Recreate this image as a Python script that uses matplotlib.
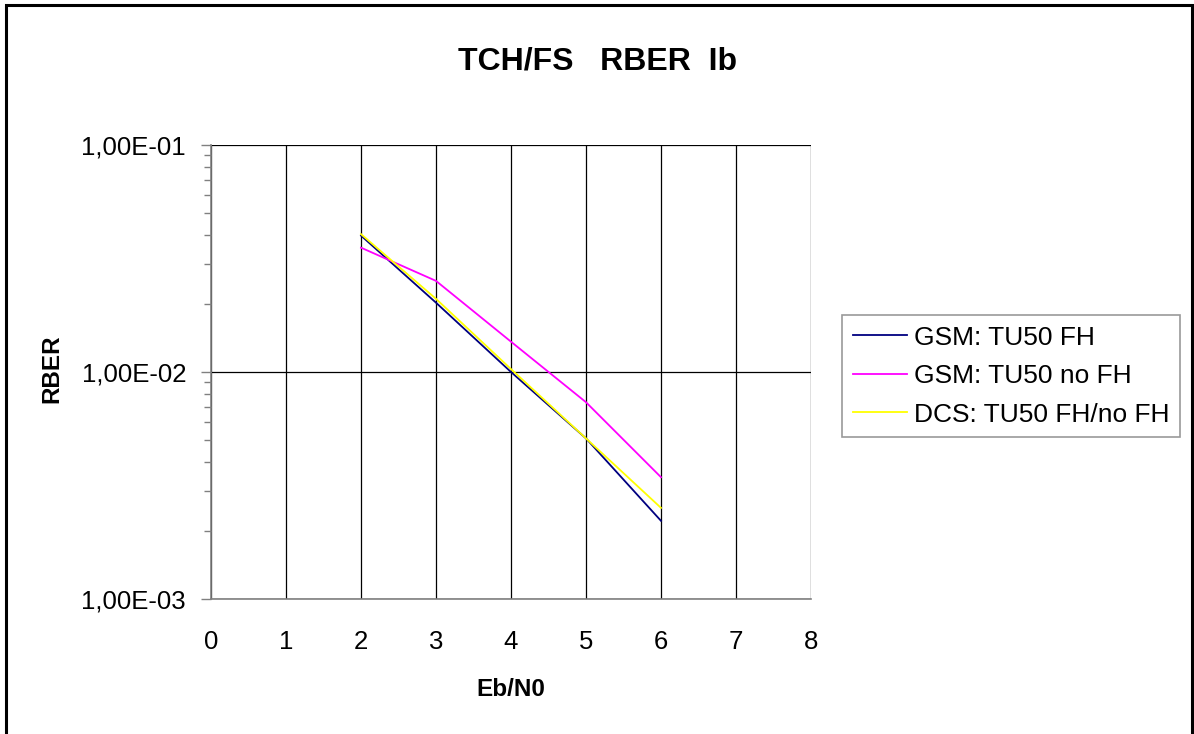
import matplotlib
matplotlib.use("Agg")
import matplotlib.pyplot as plt
from matplotlib.patches import Rectangle
from matplotlib.ticker import FixedLocator, LogLocator, NullFormatter

plt.rcParams['font.family'] = ['Liberation Sans', 'DejaVu Sans']

# data
ebn0 = [2, 3, 4, 5, 6]
gsm_fh = [0.0399, 0.0202, 0.0100, 0.0051, 0.00221]
gsm_nofh = [0.0353, 0.0252, 0.0136, 0.00736, 0.00344]
dcs = [0.0405, 0.0210, 0.0103, 0.0051, 0.00252]

x_ticks = [0, 1, 2, 3, 4, 5, 6, 7, 8]
y_ticks = [1e-3, 1e-2, 1e-1]
y_labels = ["1,00E-03", "1,00E-02", "1,00E-01"]

W, H = 1194, 734
fig = plt.figure(figsize=(W / 100, H / 100), dpi=100)

# outer chart border (bottom edge lies outside the picture)
fig.patches.append(Rectangle((6 / W, -0.02), (1192 - 6) / W, 1.02 - 5 / H, transform=fig.transFigure,
                             fill=False, edgecolor='black', linewidth=2.2, zorder=0))

ax = fig.add_axes([211 / W, 1 - 599 / H, 600 / W, 454 / H])
ax.plot(ebn0, gsm_fh, color='#000080', lw=1.3, label='GSM: TU50 FH')
ax.plot(ebn0, gsm_nofh, color='#ff00ff', lw=1.3, label='GSM: TU50 no FH')
ax.plot(ebn0, dcs, color='#ffff00', lw=1.3, label='DCS: TU50 FH/no FH')

ax.set_yscale('log')
ax.set_xlim(0, 8)
ax.set_ylim(1e-3, 1e-1)
ax.xaxis.set_major_locator(FixedLocator(x_ticks))
ax.set_xticklabels([str(v) for v in x_ticks])
ax.yaxis.set_major_locator(FixedLocator(y_ticks))
ax.set_yticklabels(y_labels)
ax.yaxis.set_minor_locator(LogLocator(base=10, subs=range(2, 10)))
ax.yaxis.set_minor_formatter(NullFormatter())

ax.grid(True, which='major', color='black', lw=0.9)
for s in ['top', 'right']:
    ax.spines[s].set_visible(False)
for s in ['left', 'bottom']:
    ax.spines[s].set_color('#808080')
    ax.spines[s].set_linewidth(1.2)

ax.tick_params(axis='x', length=0, pad=22, labelsize=18.5)
ax.tick_params(axis='y', which='major', length=7, width=1, color='#808080', pad=11, labelsize=18.5)
ax.tick_params(axis='y', which='minor', length=5, width=1, color='#808080')

fig.text(598 / W, 1 - 62 / H, "TCH/FS   RBER  Ib", ha='center', va='center',
         fontsize=23, fontweight='bold')
fig.text(511 / W, 1 - 690 / H, "Eb/N0", ha='center', va='center', fontsize=17.5, fontweight='bold')
fig.text(52 / W, 1 - 369 / H, "RBER", ha='center', va='center', rotation=90,
         fontsize=17.5, fontweight='bold')

leg = ax.legend(loc='upper left', bbox_to_anchor=(842 / W, 1 - 315 / H), bbox_transform=fig.transFigure,
                fontsize=19, frameon=True, fancybox=False, edgecolor='#808080', borderpad=0.4,
                handlelength=2.05, handletextpad=0.28, labelspacing=0.55, borderaxespad=0)
leg.get_frame().set_linewidth(1.2)

fig.savefig("out.png", dpi=100)
